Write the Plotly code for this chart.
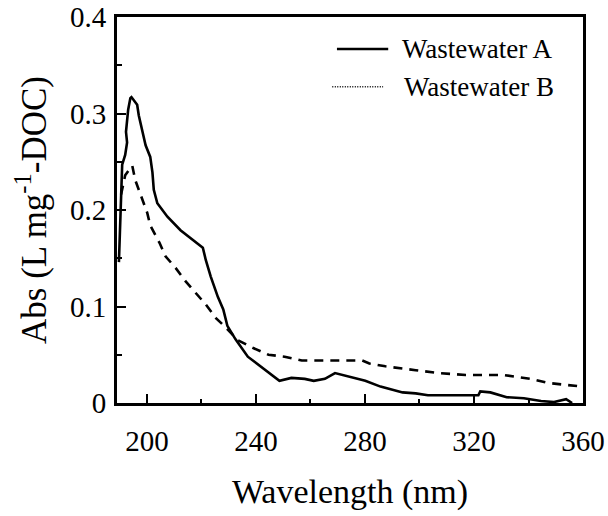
import plotly.graph_objects as go

# Wastewater A (solid)
wl_a = [189.7, 190.1, 190.5, 190.9, 192.0, 192.7, 192.3, 192.7, 193.1, 193.9, 194.3,
        196.4, 197.0, 199.5, 201.2, 202.0, 202.5, 203.8, 207.5, 212.3, 217.1, 220.5,
        221.6, 223.4, 226.0, 228.0, 229.5, 232.5, 237.0, 243.0, 248.6, 253.0, 257.9,
        261.2, 265.3, 269.0, 274.2, 280.1, 285.7, 293.8, 298.6, 303.1, 321.6, 322.3,
        326.0, 332.0, 338.3, 344.6, 349.4, 353.8, 356.0]
abs_a = [0.146, 0.179, 0.210, 0.247, 0.257, 0.270, 0.281, 0.295, 0.304, 0.316, 0.317,
         0.309, 0.298, 0.267, 0.255, 0.239, 0.221, 0.207, 0.193, 0.179, 0.169, 0.161,
         0.148, 0.131, 0.110, 0.097, 0.080, 0.066, 0.048, 0.035, 0.023, 0.026, 0.025,
         0.023, 0.025, 0.031, 0.027, 0.023, 0.017, 0.011, 0.010, 0.008, 0.008, 0.012,
         0.011, 0.006, 0.005, 0.002, 0.001, 0.004, 0.000]

# Wastewater B (dashed)
wl_b = [190.5, 192.0, 193.0, 194.6, 195.7, 198.3, 200.1, 201.2, 204.6, 206.8, 210.5,
        214.2, 217.9, 221.6, 225.3, 229.0, 233.4, 239.0, 244.6, 250.5, 256.8, 269.0,
        279.0, 281.6, 287.5, 298.6, 307.0, 317.0, 330.9, 340.9, 346.8, 353.0, 360.0]
abs_b = [0.216, 0.236, 0.240, 0.246, 0.231, 0.212, 0.197, 0.184, 0.166, 0.152, 0.140,
         0.126, 0.114, 0.102, 0.088, 0.078, 0.065, 0.057, 0.050, 0.048, 0.044, 0.044,
         0.044, 0.041, 0.038, 0.034, 0.031, 0.029, 0.029, 0.025, 0.021, 0.019, 0.017]

x_ticks = [200, 240, 280, 320, 360]
y_ticks = [0, 0.1, 0.2, 0.3, 0.4]
y_tick_text = ["0", "0.1", "0.2", "0.3", "0.4"]
names = ["Wastewater A", "Wastewater B"]

FONT = "Liberation Serif"

fig = go.Figure()
fig.add_trace(go.Scatter(x=wl_a, y=abs_a, mode="lines", name=names[0],
                         line=dict(color="black", width=2.6), showlegend=False))
fig.add_trace(go.Scatter(x=wl_b, y=abs_b, mode="lines", name=names[1],
                         line=dict(color="black", width=2.6, dash="9px,7px"),
                         showlegend=False))

# custom legend (line samples + labels)
fig.add_shape(type="line", xref="paper", yref="paper", x0=0.472, x1=0.582,
              y0=0.917, y1=0.917, line=dict(color="black", width=2.6))
fig.add_shape(type="line", xref="paper", yref="paper", x0=0.462, x1=0.571,
              y0=0.819, y1=0.819, line=dict(color="black", width=1.5, dash="1px,1.5px"))
fig.add_annotation(xref="paper", yref="paper", x=0.607, y=0.917, text=names[0],
                   showarrow=False, xanchor="left", yanchor="middle",
                   font=dict(family=FONT, size=27, color="black"))
fig.add_annotation(xref="paper", yref="paper", x=0.612, y=0.819, text=names[1],
                   showarrow=False, xanchor="left", yanchor="middle",
                   font=dict(family=FONT, size=27, color="black"))

axis_common = dict(showline=True, linecolor="black", linewidth=3, mirror=True,
                   ticks="inside", ticklen=9, tickwidth=2, tickcolor="black",
                   showgrid=False, zeroline=False,
                   tickfont=dict(family=FONT, size=29, color="black"))

fig.update_xaxes(range=[189, 360], tickvals=x_ticks, ticklabelstandoff=10,
                 automargin="bottom",
                 minor=dict(dtick=20, tick0=200, ticks="inside", ticklen=4, tickwidth=2,
                            tickcolor="black"),
                 title=dict(text="Wavelength (nm)", font=dict(family=FONT, size=34, color="black"),
                            standoff=24),
                 **axis_common)
fig.update_yaxes(range=[0, 0.4], tickvals=y_ticks, ticktext=y_tick_text,
                 ticklabelstandoff=2, automargin="left",
                 minor=dict(dtick=0.05, tick0=0, ticks="inside", ticklen=5, tickwidth=2,
                            tickcolor="black"),
                 title=dict(text="Abs (L mg<sup>-1</sup>-DOC)",
                            font=dict(family=FONT, size=35, color="black"), standoff=13),
                 **axis_common)

fig.update_layout(width=608, height=516, margin=dict(l=117, r=25, t=17, b=113),
                  plot_bgcolor="white", paper_bgcolor="white",
                  font=dict(family=FONT, color="black"))

fig.write_html("out.html")
